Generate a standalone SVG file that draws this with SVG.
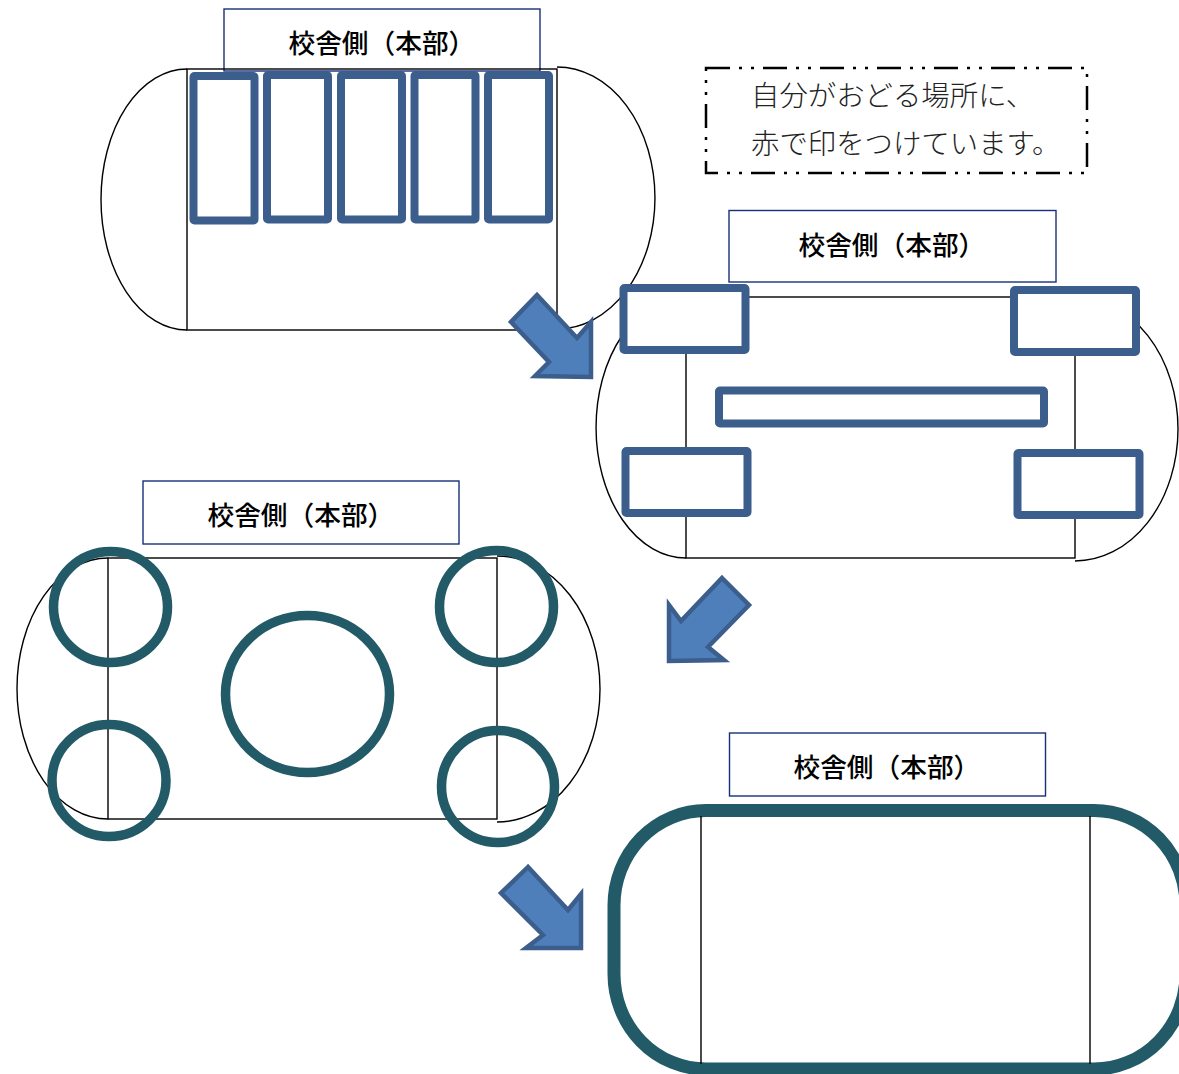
<svg xmlns="http://www.w3.org/2000/svg" width="1179" height="1074" viewBox="0 0 1179 1074">
<style>
.line{fill:none;stroke:#000;stroke-width:1.4}
.label{fill:#fff;stroke:#17307a;stroke-width:1.4}
.lt{font-family:"Noto Sans CJK JP","Noto Sans CJK SC",sans-serif;font-size:26.700px;font-weight:500;fill:#000}
.blue{fill:#fff;stroke:#3b5e8c;stroke-width:8;stroke-linejoin:round}
.teal{fill:none;stroke:#225a67;stroke-width:9.500}
.arrow{fill:#4f7fba;stroke:#3b5e8c;stroke-width:4.500}
.note{font-family:"Noto Sans CJK JP","Noto Sans CJK SC",sans-serif;font-size:28.400px;font-weight:300;fill:#222}
</style>
<rect width="1179" height="1074" fill="#fff"/>
<g id="stage1">
<rect class="label" x="224" y="9" width="316" height="62"/>
<text class="lt" x="288.500" y="53">校舎側（本部）</text>
<rect class="line" x="187" y="69" width="370" height="261"/>
<path class="line" d="M187 69A86 130.500 0 0 0 187 330"/>
<path class="line" d="M557 67A98 131 0 0 1 557 329"/>
<rect class="blue" x="193.500" y="76" width="61" height="144.500" rx="1"/>
<rect class="blue" x="267" y="75" width="61" height="144.500" rx="1"/>
<rect class="blue" x="341" y="75" width="61" height="144.500" rx="1"/>
<rect class="blue" x="414.500" y="75" width="61" height="144.500" rx="1"/>
<rect class="blue" x="488" y="75" width="61" height="144.500" rx="1"/>
</g>
<g id="note">
<rect x="706" y="68" width="381" height="105" fill="none" stroke="#000" stroke-width="2.500" stroke-dasharray="24 9 3 9 3 9"/>
<text class="note" x="751" y="106">自分がおどる場所に、</text>
<text class="note" x="751" y="154">赤で印をつけています。</text>
</g>
<g id="stage2">
<rect class="label" x="729" y="210.500" width="327" height="71.500"/>
<text class="lt" x="798.500" y="255">校舎側（本部）</text>
<rect class="line" x="686" y="297" width="389" height="261"/>
<path class="line" d="M686 297A90 130.500 0 0 0 686 558"/>
<path class="line" d="M1075 297A103 132 0 0 1 1075 561"/>
<rect class="blue" x="623.500" y="288" width="122" height="62" rx="1"/>
<rect class="blue" x="1014" y="290" width="122" height="62" rx="1"/>
<rect class="blue" x="719" y="390.500" width="325" height="33" rx="1"/>
<rect class="blue" x="625.500" y="451" width="122" height="62" rx="1"/>
<rect class="blue" x="1017.500" y="453" width="122" height="62" rx="1"/>
</g>
<g id="stage3">
<rect class="label" x="143" y="481" width="316" height="63"/>
<text class="lt" x="207.500" y="525">校舎側（本部）</text>
<rect class="line" x="108" y="558" width="389" height="261"/>
<path class="line" d="M108 558A91 130.500 0 0 0 108 819"/>
<path class="line" d="M497 556A103 133 0 0 1 497 822"/>
<ellipse class="teal" cx="110.500" cy="607" rx="57" ry="55.500"/>
<ellipse class="teal" cx="496.500" cy="606.500" rx="57" ry="56"/>
<ellipse class="teal" cx="307.500" cy="694" rx="82" ry="78.500"/>
<ellipse class="teal" cx="109" cy="780.500" rx="57" ry="56"/>
<ellipse class="teal" cx="498" cy="786.500" rx="56.500" ry="56"/>
</g>
<g id="stage4">
<rect class="label" x="729.500" y="733" width="316" height="63"/>
<text class="lt" x="793.500" y="777">校舎側（本部）</text>
<rect x="614" y="810.500" width="572" height="258.500" rx="92" ry="95" fill="none" stroke="#225a67" stroke-width="13"/>
<path class="line" d="M701 816V1064M1090 816V1064"/>
</g>
<g id="connectors">
<polygon class="arrow" points="537,295 577,338 591,322 591,377 535,376 549,362 511,322"/>
<polygon class="arrow" points="722,578 749,605 708,647 724,660 669,661 669,605 681,621"/>
<polygon class="arrow" points="528,867 501,893 543,935 526,948 581,948 581,894 568,910"/>
</g>
</svg>
